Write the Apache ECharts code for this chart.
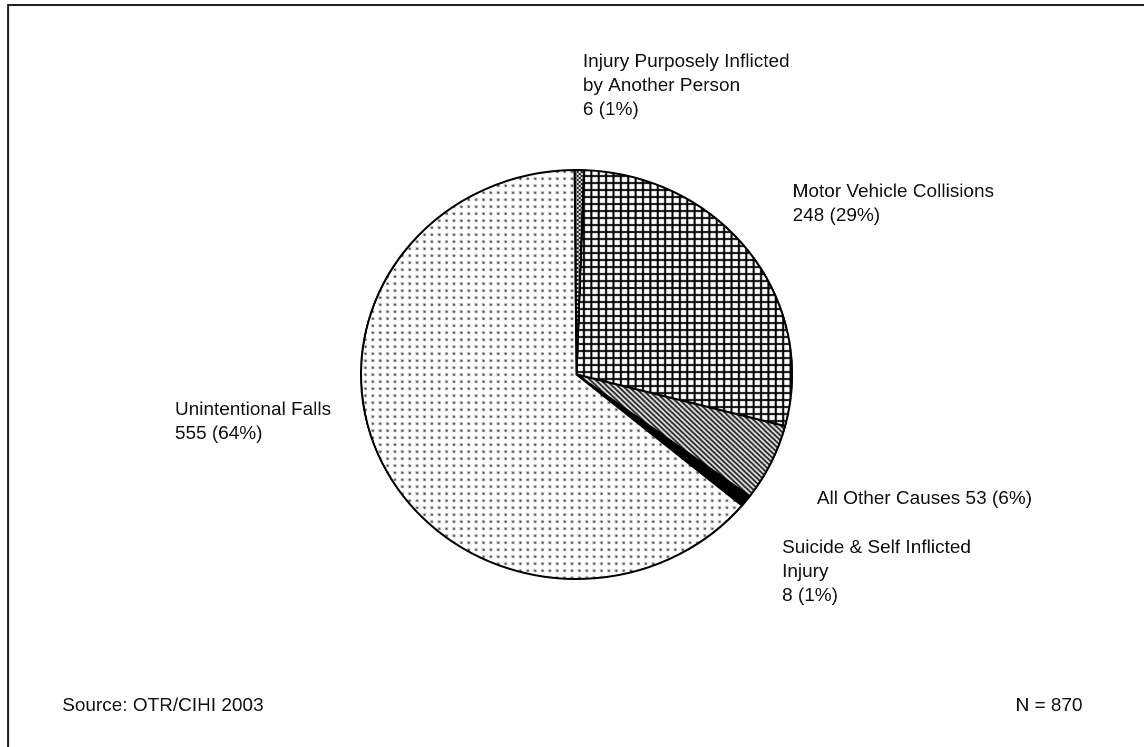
<!DOCTYPE html>
<html>
<head>
<meta charset="utf-8">
<script src="https://cdn.jsdelivr.net/npm/echarts@6/dist/echarts.min.js"></script>
<style>
  html, body { margin: 0; padding: 0; background: #fff; overflow: hidden; }
  /* the figure is laid out slightly narrower, then widened to the page */
  #chart { width: 1086px; height: 747px; transform: scaleX(1.054); transform-origin: 0 0; }
</style>
</head>
<body>
<div id="chart"></div>
<script>
// Injury causes, clockwise from 12 o'clock
const categories = [
  'Motor Vehicle Collisions',
  'All Other Causes',
  'Suicide & Self Inflicted\nInjury',
  'Unintentional Falls',
  'Injury Purposely Inflicted\nby Another Person'
];
const counts = [248, 53, 8, 555, 6];
const sourceNote = 'Source: OTR/CIHI 2003';

const total = counts.reduce((a, b) => a + b, 0);

// ---- fill patterns ----
function tile(w, h, draw) {
  const c = document.createElement('canvas');
  c.width = w; c.height = h;
  const g = c.getContext('2d');
  g.fillStyle = '#fff';
  g.fillRect(0, 0, w, h);
  draw(g);
  return { image: c, repeat: 'repeat' };
}
const gridFill = tile(7, 7, g => {
  g.fillStyle = '#000';
  g.fillRect(0, 0, 7, 2);
  g.fillRect(0, 0, 2, 7);
});
const stripeFill = tile(5, 5, g => {
  g.strokeStyle = '#000';
  g.lineWidth = 1.6;
  g.beginPath();
  for (let k = -5; k <= 5; k += 5) {
    g.moveTo(k - 1, -1);
    g.lineTo(k + 6, 6);
  }
  g.stroke();
});
const dotFill = tile(7, 7, g => {
  g.fillStyle = '#bbb';
  g.fillRect(2, 2, 3, 3);
  g.fillStyle = '#222';
  g.fillRect(3, 3, 1.6, 1.6);
});
const crossFill = tile(4, 4, g => {
  g.strokeStyle = '#000';
  g.lineWidth = 1;
  g.beginPath();
  g.moveTo(0, 0); g.lineTo(4, 4);
  g.moveTo(4, 0); g.lineTo(0, 4);
  g.stroke();
});
const fills = [gridFill, stripeFill, '#000', dotFill, crossFill];

// label anchors (top-left of each text block) and name/value joiner
const labelSpots = [[752, 180], [775, 487], [742, 536], [166, 398], [553, 50]];
const labelJoin = ['\n', ' ', '\n', '\n', '\n'];

const font = '"Liberation Sans", Arial, sans-serif';

const chart = echarts.init(document.getElementById('chart'), null, { devicePixelRatio: 2 });
chart.setOption({
  animation: false,
  backgroundColor: '#fff',
  graphic: [
    {
      type: 'polyline',
      shape: { points: [[7.6, 747], [7.6, 5], [1086, 5]] },
      style: { stroke: '#222', lineWidth: 2, fill: null },
      silent: true
    },
    {
      type: 'text', left: 59, top: 697,
      style: { text: sourceNote, font: '18px ' + font, fill: '#111' }
    },
    {
      type: 'text', right: 59, top: 697,
      style: { text: 'N = ' + total, font: '18px ' + font, fill: '#111', textAlign: 'right' }
    }
  ],
  series: [{
    type: 'pie',
    center: [547, 374.5],
    radius: 204.5,
    startAngle: 88,
    clockwise: true,
    avoidLabelOverlap: false,
    emphasis: { disabled: true },
    itemStyle: { borderColor: '#000', borderWidth: 2 },
    label: {
      show: true,
      position: 'outside',
      color: '#111',
      fontFamily: font,
      fontSize: 18,
      lineHeight: 24,
      formatter: p => {
        const pct = Math.round(p.value / total * 100);
        return p.name + labelJoin[p.dataIndex] + p.value + ' (' + pct + '%)';
      }
    },
    labelLine: { show: false },
    labelLayout: params => {
      const s = labelSpots[params.dataIndex];
      return { x: s[0], y: s[1], align: 'left', verticalAlign: 'top' };
    },
    data: categories.map((name, i) => ({
      name,
      value: counts[i],
      itemStyle: { color: fills[i] }
    }))
  }]
});
</script>
</body>
</html>
